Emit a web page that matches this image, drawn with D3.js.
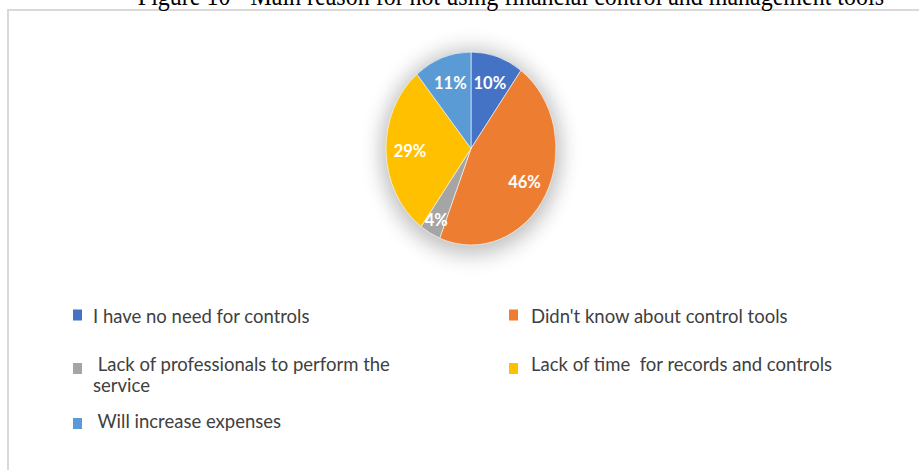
<!DOCTYPE html>
<html>
<head>
<meta charset="utf-8">
<script src="https://cdn.jsdelivr.net/npm/d3@7"></script>
<style>
  body { margin: 0; background: #fff; }
  svg { display: block; }
  text { white-space: pre; }
</style>
</head>
<body>
<svg id="chart" width="919" height="470"></svg>
<script>
// Survey answers: main reason for not using financial control tools
const title = "Figure 10 - Main reason for not using financial control and management tools";
const categories = [
  "I have no need for controls",
  "Didn't know about control tools",
  " Lack of professionals to perform the\nservice",
  "Lack of time  for records and controls",
  " Will increase expenses"
];
const values = [10, 46, 4, 29, 11];
const colors = ["#4472C4", "#ED7D31", "#A5A5A5", "#FFC000", "#5B9BD5"];

const svg = d3.select("#chart");
const stretch = 1.135;           // the pie is drawn slightly taller than wide

// chart frame (left and top edges show)
svg.append("path")
  .attr("d", "M8,470 V10 H919")
  .attr("fill", "none")
  .attr("stroke", "#d9d9d9")
  .attr("stroke-width", 2);

// title
svg.append("text")
  .attr("transform", `translate(884,5) scale(1,1.1)`)
  .attr("text-anchor", "end")
  .attr("font-family", "'Liberation Serif', 'Times New Roman', serif")
  .attr("font-size", 24)
  .attr("fill", "#000")
  .text(title);

// soft shadow behind the pie
const defs = svg.append("defs");
const f = defs.append("filter").attr("id", "glow")
  .attr("x", "-50%").attr("y", "-50%").attr("width", "200%").attr("height", "200%");
f.append("feGaussianBlur").attr("stdDeviation", 10);

const cx = 471, cy = 148.5, r = 85;
const pieG = svg.append("g").attr("transform", `translate(${cx},${cy}) scale(1,${stretch})`);

pieG.append("circle")
  .attr("cx", 0).attr("cy", 3).attr("r", r + 5)
  .attr("fill", "#000")
  .attr("opacity", 0.26)
  .attr("filter", "url(#glow)");

const pie = d3.pie().sort(null).value(d => d)(values);
const arc = d3.arc().innerRadius(0).outerRadius(r);

pieG.selectAll("path.slice")
  .data(pie)
  .join("path")
  .attr("class", "slice")
  .attr("d", arc)
  .attr("fill", (d, i) => colors[i])
  .attr("stroke", "#fff")
  .attr("stroke-width", 0.6)
  .attr("vector-effect", "non-scaling-stroke");

// percentage labels
svg.selectAll("text.pct")
  .data(pie)
  .join("text")
  .attr("class", "pct")
  .attr("transform", d => {
    const lr = d.data < 5 ? 72 : 61;
    const c = d3.arc().innerRadius(lr).outerRadius(lr).centroid(d);
    return `translate(${cx + c[0]},${cy + c[1] * stretch})`;
  })
  .attr("text-anchor", "middle")
  .attr("dy", "0.36em")
  .attr("font-family", "Lato, 'Open Sans', sans-serif")
  .attr("font-weight", "bold")
  .attr("font-size", 16.5)
  .attr("fill", "#fff")
  .text(d => d.data + "%");

// legend: two columns, row-major
const colX = [73, 509];
const textX = [93, 531];
const rowMarkerTop = [309.5, 363, 418];
const rowBaseline = [322.5, 370.5, 428];

const leg = svg.selectAll("g.leg")
  .data(categories)
  .join("g")
  .attr("class", "leg");

leg.append("rect")
  .attr("x", (d, i) => colX[i % 2])
  .attr("y", (d, i) => rowMarkerTop[Math.floor(i / 2)])
  .attr("width", 9)
  .attr("height", 11)
  .attr("fill", (d, i) => colors[i]);

leg.each(function (d, i) {
  const lines = d.split("\n");
  const g = d3.select(this);
  lines.forEach((ln, k) => {
    g.append("text")
      .attr("x", textX[i % 2])
      .attr("y", rowBaseline[Math.floor(i / 2)] + k * 21.7)
      .attr("font-family", "Lato, 'Open Sans', sans-serif")
      .attr("font-size", 18.5)
      .attr("fill", "#404040")
      .text(ln);
  });
});
</script>
</body>
</html>
